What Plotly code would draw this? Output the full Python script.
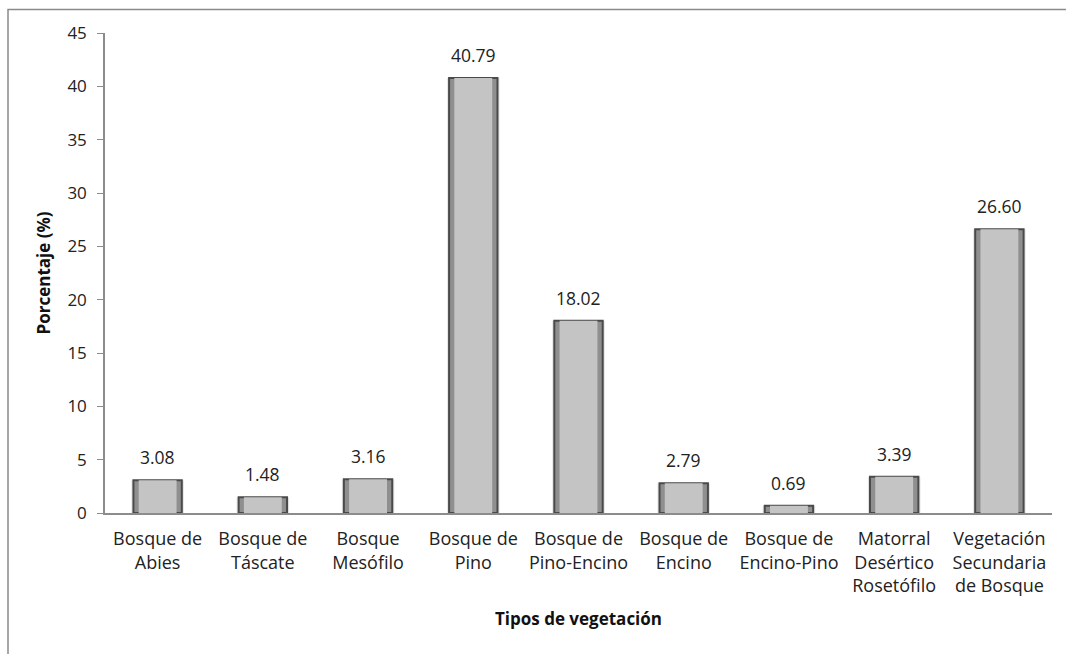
import plotly.graph_objects as go

categories = [
    "Bosque de<br>Abies",
    "Bosque de<br>Táscate",
    "Bosque<br>Mesófilo",
    "Bosque de<br>Pino",
    "Bosque de<br>Pino-Encino",
    "Bosque de<br>Encino",
    "Bosque de<br>Encino-Pino",
    "Matorral<br>Desértico<br>Rosetófilo",
    "Vegetación<br>Secundaria<br>de Bosque",
]
values = [3.08, 1.48, 3.16, 40.79, 18.02, 2.79, 0.69, 3.39, 26.60]
value_labels = ["3.08", "1.48", "3.16", "40.79", "18.02", "2.79", "0.69", "3.39", "26.60"]
y_ticks = [0, 5, 10, 15, 20, 25, 30, 35, 40, 45]

FONT = "Open Sans, Liberation Sans, sans-serif"

fig = go.Figure()
# soft halo behind bars
fig.add_trace(go.Bar(
    x=categories, y=values, width=0.5,
    marker=dict(color="rgba(0,0,0,0.10)", line=dict(width=0)),
    hoverinfo="skip", showlegend=False,
))
# outer bar (dark bevel edge)
fig.add_trace(go.Bar(
    x=categories, y=values, width=0.46,
    marker=dict(color="#8f8f8f", line=dict(color="#4a4a4a", width=2)),
    hoverinfo="skip", showlegend=False,
))
# inner lighter face
fig.add_trace(go.Bar(
    x=categories, y=values, width=0.36,
    marker=dict(color="#c4c4c4", line=dict(width=0)),
    hoverinfo="skip", showlegend=False,
))

annotations = [
    dict(x=c, y=v, text=t, showarrow=False, yanchor="bottom", yshift=9,
         font=dict(family=FONT, size=17.5, color="#222"))
    for c, v, t in zip(categories, values, value_labels)
]

W, H = 1066, 654
L, R, T, B = 105, 14, 33, 141
pw, ph = W - L - R, H - T - B
fx0 = (8 - L) / pw
fy1 = 1 + (T - 9.5) / ph

fig.update_layout(
    width=W, height=H,
    margin=dict(l=L, r=R, t=T, b=B),
    paper_bgcolor="white", plot_bgcolor="white",
    barmode="overlay",
    font=dict(family=FONT, size=16, color="#222"),
    annotations=annotations,
    shapes=[dict(type="rect", xref="paper", yref="paper",
                 x0=fx0, x1=1.2, y0=-0.5, y1=fy1,
                 line=dict(color="#8a8a8a", width=1.5), layer="below")],
    xaxis=dict(
        showline=True, linecolor="#8c8c8c", linewidth=1.5,
        ticks="", tickfont=dict(family=FONT, size=18, color="#222"),
        ticklabelstandoff=9,
        title=dict(text="<b>Tipos de vegetación</b>",
                   font=dict(family=FONT, size=17, color="#111"), standoff=17),
        range=[-0.5, 8.5],
    ),
    yaxis=dict(
        range=[0, 45], tickvals=y_ticks,
        showline=True, linecolor="#8c8c8c", linewidth=1.5,
        ticks="outside", ticklen=6, tickcolor="#8c8c8c",
        showgrid=False, zeroline=False,
        tickfont=dict(family=FONT, size=17, color="#222"),
        ticklabelstandoff=7,
        title=dict(text="<b>Porcentaje (%)</b>",
                   font=dict(family=FONT, size=17, color="#111"), standoff=12),
    ),
)

fig.write_html("out.html")
